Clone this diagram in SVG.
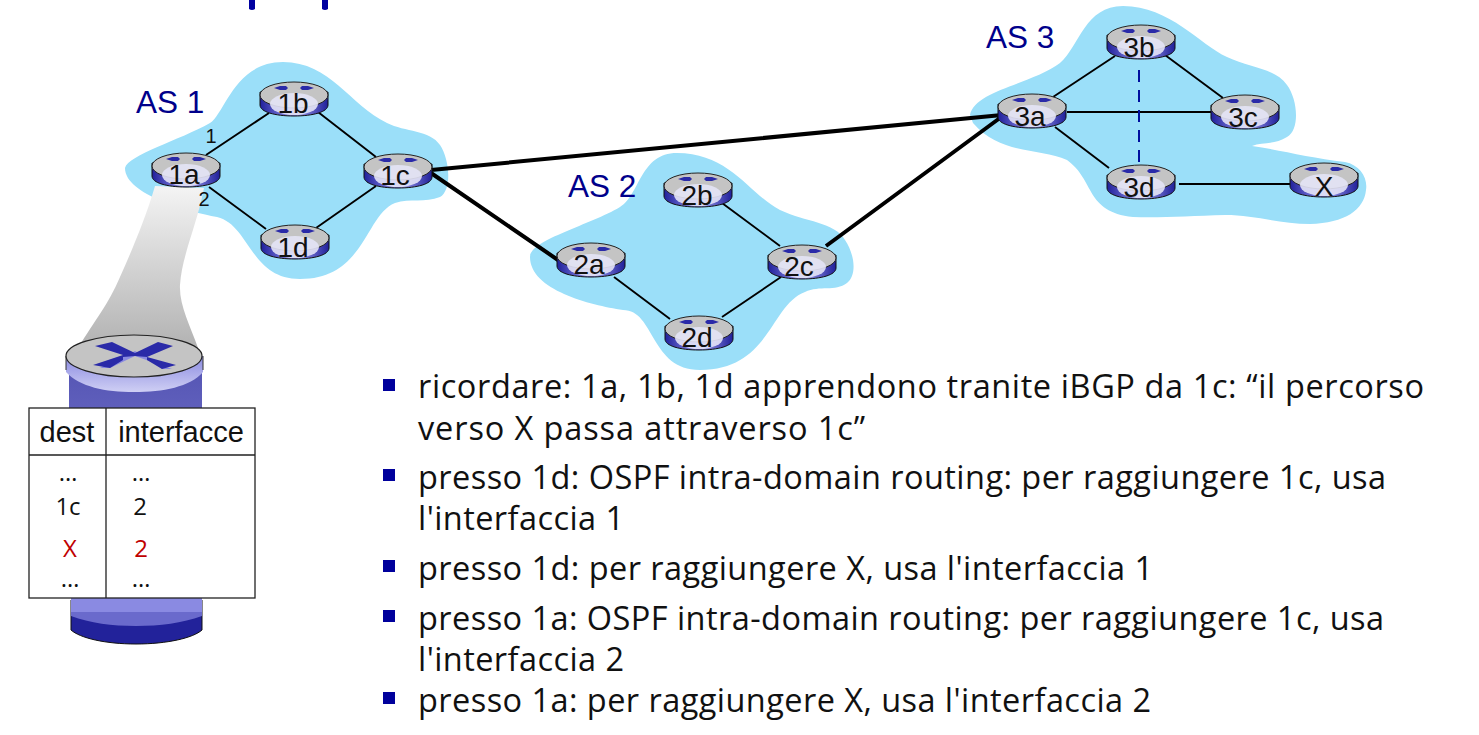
<svg xmlns="http://www.w3.org/2000/svg" width="1479" height="735" viewBox="0 0 1479 735">
<style>
.cloud{fill:#9bdff9}
.l{stroke:#000;stroke-width:1.9;fill:none}
.b{stroke:#000;stroke-width:4;fill:none}
.d{stroke:#000f9e;stroke-width:2;stroke-dasharray:12 8;fill:none}
.n{font:28px "Liberation Sans",Arial,sans-serif;fill:#111;text-anchor:middle}
.as{font:31.5px "Liberation Sans",Arial,sans-serif;fill:#00008b}
.p{font:20px "Liberation Sans",Arial,sans-serif;fill:#111;text-anchor:middle}
.t{font:32.5px "Open Sans",sans-serif;fill:#111}
.c{font:24px "Open Sans",sans-serif;fill:#111;text-anchor:middle}
.h{font:29px "Liberation Sans",sans-serif;fill:#111;text-anchor:middle}
.r{fill:#c00000}
.bu{fill:#00009c}
</style>
<defs>
<linearGradient id="side" x1="0" x2="1" y1="0" y2="0"><stop offset="0" stop-color="#20209a"/><stop offset=".3" stop-color="#6a6ad0"/><stop offset=".6" stop-color="#8a8ae0"/><stop offset="1" stop-color="#20209a"/></linearGradient>
<linearGradient id="cone" x1="0" x2="0" y1="0" y2="1"><stop offset="0" stop-color="#f4f4f4"/><stop offset="1" stop-color="#b2b2b2"/></linearGradient>
<linearGradient id="bigBody" x1="0" x2="0" y1="0" y2="1"><stop offset="0" stop-color="#5656b4"/><stop offset="1" stop-color="#8a8ae2"/></linearGradient>
<linearGradient id="band" x1="0" x2="0" y1="0" y2="1"><stop offset="0" stop-color="#8a8ae0"/><stop offset="1" stop-color="#cfcff4"/></linearGradient>
<g id="router">
<path d="M-34-6V7C-34 14-19 18 0 18S34 14 34 7V-6Z" fill="url(#side)" stroke="#111" stroke-width="1"/>
<ellipse cx="0" cy="-3" rx="34" ry="13" fill="#c4c4c4" stroke="#222" stroke-width="1"/>
<ellipse cx="0" cy="6" rx="24" ry="11" fill="#e4e4f6" opacity=".9"/>
<path d="M-20-10l6-2h6l2 2-2 2h-6ZM8-12h6l6 2-6 2h-6l-2-2Z" fill="#2a2aa8"/>
</g>
</defs>
<path fill="#0000a0" d="M249 0h6v9q-3 2-6 0ZM322 0h6v9q-3 2-6 0Z"/>
<g id="as1-cloud"><path class="cloud" d="M125 168C128 155 180 140 210 123C225 113 235 62 283 62C330 62 350 105 387 123C405 132 430 130 440 145C450 160 452 190 440 197C425 203 410 198 395 203C365 215 365 279 300 279C250 279 250 225 217 217C190 212 125 195 125 168Z"/></g>
<g id="as2-cloud"><path class="cloud" d="M530 257C530 240 590 225 620 207C640 195 640 153 677 153C730 153 750 195 780 210C805 222 835 222 845 240C855 255 857 275 847 283C835 292 820 285 805 292C770 305 770 370 700 370C650 370 655 310 623 310C590 305 530 290 530 257Z"/></g>
<g id="as3-cloud"><path class="cloud" d="M970 115C975 90 1030 85 1060 63C1080 45 1085 6 1123 6C1170 6 1200 45 1227 57C1250 68 1275 68 1287 85C1298 100 1300 130 1287 137C1275 145 1262 142 1252 146C1280 150 1310 158 1345 162C1360 165 1368 178 1366 190C1364 210 1345 223 1310 224C1280 224 1255 215 1225 215C1190 216 1160 218 1133 217C1085 212 1095 180 1067 160C1040 148 1000 155 973 123Z"/></g>
<path id="beam" d="M155 186L204 188C197 225 182 255 180 285C179 305 190 325 198 348H78C95 320 108 305 120 277C132 250 145 220 155 186Z" fill="url(#cone)"/>
<g id="connectors">
<path class="l" d="M206 155L269 113M318 112L376 157M209 187L266 229M376 186L316 228"/>
<path class="b" d="M431 170L1002 115M431 173L558 260M826 246L1004 115"/>
<path class="l" d="M722 203L780 246M614 277L670 319M781 277L722 317"/>
<path class="l" d="M1053 97L1115 56M1165 55L1223 98M1067 112H1211M1055 127L1109 168M1179 184H1290"/>
<path class="d" d="M1139 70V165"/>
</g>
<g id="r1a"><use href="#router" x="186" y="169"/><text class="n" x="184" y="184">1a</text></g>
<g id="r1b"><use href="#router" x="294" y="98"/><text class="n" x="293" y="113">1b</text></g>
<g id="r1c"><use href="#router" x="398" y="170"/><text class="n" x="395" y="185">1c</text></g>
<g id="r1d"><use href="#router" x="295" y="241"/><text class="n" x="293" y="257">1d</text></g>
<g id="r2a"><use href="#router" x="591" y="259"/><text class="n" x="589" y="274">2a</text></g>
<g id="r2b"><use href="#router" x="698" y="189"/><text class="n" x="697" y="205">2b</text></g>
<g id="r2c"><use href="#router" x="802" y="261"/><text class="n" x="799" y="276">2c</text></g>
<g id="r2d"><use href="#router" x="699" y="332"/><text class="n" x="697" y="347">2d</text></g>
<g id="r3a"><use href="#router" x="1032" y="110"/><text class="n" x="1030" y="126">3a</text></g>
<g id="r3b"><use href="#router" x="1141" y="41"/><text class="n" x="1139" y="57">3b</text></g>
<g id="r3c"><use href="#router" x="1245" y="111"/><text class="n" x="1243" y="127">3c</text></g>
<g id="r3d"><use href="#router" x="1141" y="181"/><text class="n" x="1139" y="197">3d</text></g>
<g id="rX"><use href="#router" x="1324" y="179"/><text class="n" x="1324" y="196">X</text></g>
<text class="as" x="136" y="113">AS 1</text>
<text class="as" x="568" y="197">AS 2</text>
<text class="as" x="986" y="48">AS 3</text>
<text class="p" x="211" y="143">1</text>
<text class="p" x="204" y="206">2</text>
<g id="big-router">
<path d="M71 600V630C80 638 105 644 136 644S193 638 202 630V600Z" fill="#22229a" stroke="#111"/>
<path d="M71 612V616C90 623 112 626 136 626S182 623 202 616V612Z" fill="#6a6acc"/>
<rect x="71" y="596" width="131" height="16" fill="#8a8ae2"/>
<rect x="69" y="370" width="133" height="228" fill="url(#bigBody)"/>
<path d="M66 356V372C80 387 105 392 134 392S190 387 203 372V356Z" fill="url(#band)"/>
<path d="M66 356V370M203 356V370" stroke="#333"/>
<ellipse cx="134" cy="356" rx="68" ry="21" fill="#c4c4c4" stroke="#222" stroke-width="1.2"/>
<path d="M123 357L135 351L147 357L162 369H172L135 356L110 368H100Z" fill="#8a8ae0"/>
<path d="M95 346L112 342L135 353L158 342L173 346L147 357L176 365L162 369L147 360V357L135 356L123 357V360L110 368L93 365L123 355Z" fill="#2a2aa8"/>
</g>
<g id="table">
<rect x="29" y="408" width="226" height="190" fill="#fff" stroke="#222" stroke-width="1.3"/>
<path d="M106 408V598M29 455H255" stroke="#222" stroke-width="1.3" fill="none"/>
<text class="h" x="67" y="442">dest</text>
<text class="h" x="181" y="442">interfacce</text>
<text class="c" x="68" y="481">…</text><text class="c" x="141" y="481">…</text>
<text class="c" x="68" y="515">1c</text><text class="c" x="140" y="515">2</text>
<text class="c r" x="70" y="557">X</text><text class="c r" x="141" y="557">2</text>
<text class="c" x="70" y="587">…</text><text class="c" x="141" y="587">…</text>
</g>
<g id="bullets">
<path class="bu" d="M383 379h12v12h-12ZM383 469h12v12h-12ZM383 560h12v12h-12ZM383 610h12v12h-12ZM383 692h12v12h-12Z"/>
<text class="t" x="418" y="398" textLength="1006">ricordare: 1a, 1b, 1d apprendono tranite iBGP da 1c: “il percorso</text>
<text class="t" x="418" y="440" textLength="447">verso X passa attraverso 1c”</text>
<text class="t" x="418" y="489" textLength="968">presso 1d: OSPF intra-domain routing: per raggiungere 1c, usa</text>
<text class="t" x="418" y="530" textLength="206">l'interfaccia 1</text>
<text class="t" x="418" y="580" textLength="735">presso 1d: per raggiungere X, usa l'interfaccia 1</text>
<text class="t" x="418" y="630" textLength="966">presso 1a: OSPF intra-domain routing: per raggiungere 1c, usa</text>
<text class="t" x="418" y="671" textLength="206">l'interfaccia 2</text>
<text class="t" x="418" y="712" textLength="733">presso 1a: per raggiungere X, usa l'interfaccia 2</text>
</g>
</svg>
